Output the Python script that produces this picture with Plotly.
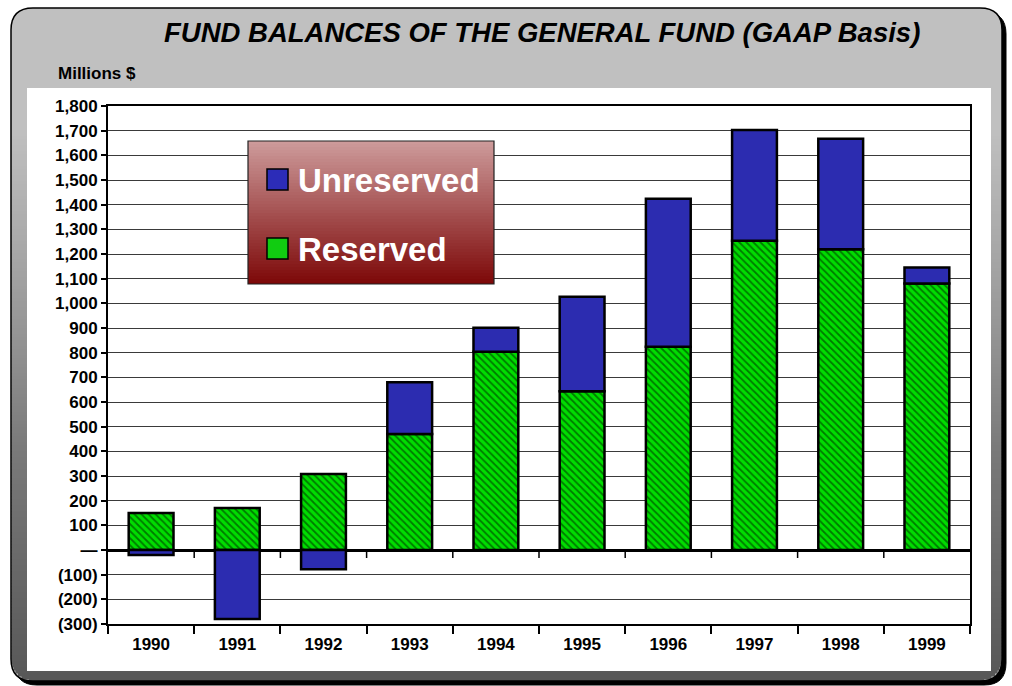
import numpy as np
import plotly.graph_objects as go

# ---------------- data ----------------
years = ["1990", "1991", "1992", "1993", "1994", "1995", "1996", "1997", "1998", "1999"]
reserved = [150, 170, 308, 470, 804, 644, 824, 1254, 1219, 1080]
unreserved = [-20, -280, -78, 210, 97, 383, 600, 449, 448, 65]
y_tick_vals = [-300, -200, -100, 0, 100, 200, 300, 400, 500, 600, 700, 800, 900,
               1000, 1100, 1200, 1300, 1400, 1500, 1600, 1700, 1800]
y_tick_text = ["(300)", "(200)", "(100)", "\u2014", "100", "200", "300", "400", "500",
               "600", "700", "800", "900", "1,000", "1,100", "1,200", "1,300", "1,400",
               "1,500", "1,600", "1,700", "1,800"]
title_text = "FUND BALANCES OF THE GENERAL FUND (GAAP Basis)"
unit_text = "Millions $"

# ---------------- geometry helpers ----------------
W, H = 1012, 686
L, R, T, B = 108, 970, 106, 624
FONT = "Liberation Sans, Arial, sans-serif"


def px(x):
    return (x - L) / (R - L)


def py(y):
    return (B - y) / (B - T)


def rounded_path(x0, y0, x1, y1, r):
    p = [
        f"M {px(x0 + r)},{py(y0)}",
        f"L {px(x1 - r)},{py(y0)}",
        f"Q {px(x1)},{py(y0)} {px(x1)},{py(y0 + r)}",
        f"L {px(x1)},{py(y1 - r)}",
        f"Q {px(x1)},{py(y1)} {px(x1 - r)},{py(y1)}",
        f"L {px(x0 + r)},{py(y1)}",
        f"Q {px(x0)},{py(y1)} {px(x0)},{py(y1 - r)}",
        f"L {px(x0)},{py(y0 + r)}",
        f"Q {px(x0)},{py(y0)} {px(x0 + r)},{py(y0)}",
        "Z",
    ]
    return " ".join(p)


def prect(x0, y0, x1, y1, fill, line_color=None, line_width=0, layer="below"):
    return dict(type="rect", xref="paper", yref="paper", x0=px(x0), x1=px(x1),
                y0=py(y1), y1=py(y0), fillcolor=fill, layer=layer,
                line=dict(color=line_color or fill, width=line_width))


shapes = []
# frame shadow + frame
FX0, FY0, FX1, FY1, RAD = 11, 8, 1002, 681, 22
shapes.append(dict(type="path", xref="paper", yref="paper",
                   path=rounded_path(FX0 + 4, FY0 + 4, FX1 + 4, FY1 + 4, RAD),
                   fillcolor="black", line=dict(color="black", width=1), layer="below"))
shapes.append(dict(type="path", xref="paper", yref="paper",
                   path=rounded_path(FX0, FY0, FX1, FY1, RAD),
                   fillcolor="#c0c0c0", line=dict(color="black", width=0), layer="below"))
# vertical gradient of frame
stops_y = [130, 250, 450, 681]
stops_v = [192, 168, 122, 88]
step = 3
for y in range(130, FY1, step):
    yc = y + step / 2
    v = int(np.interp(yc, stops_y, stops_v))
    inset = 0.0
    cy = FY1 - RAD
    if yc > cy:
        d = min(yc - cy, RAD)
        inset = RAD - np.sqrt(max(RAD ** 2 - d ** 2, 0))
    yb = min(y + step + 0.5, FY1)
    shapes.append(prect(FX0 + inset + 0.5, y, FX1 - inset - 0.5, yb,
                        f"rgb({v},{v},{v})"))
# frame border on top
shapes.append(dict(type="path", xref="paper", yref="paper",
                   path=rounded_path(FX0, FY0, FX1, FY1, RAD),
                   fillcolor="rgba(0,0,0,0)", line=dict(color="black", width=1.5),
                   layer="below"))
# white panel
shapes.append(prect(27, 88, 991, 671, "white"))

# zero-line tick marks between categories
for i in range(len(years) - 1):
    shapes.append(dict(type="line", xref="x", yref="y", x0=i + 0.5, x1=i + 0.5,
                       ysizemode="pixel", yanchor=0, y0=0, y1=-8,
                       line=dict(color="black", width=1.5), layer="above"))

# custom legend box with gradient
LX0, LY0, LX1, LY1 = 248, 141, 494, 284
top_c = np.array([206, 156, 156])
bot_c = np.array([125, 8, 8])
lstep = 3
for y in range(LY0, LY1, lstep):
    t = (y + lstep / 2 - LY0) / (LY1 - LY0)
    c = (1 - t) * top_c + t * bot_c
    shapes.append(prect(LX0, y, LX1, min(y + lstep + 0.5, LY1),
                        f"rgb({int(c[0])},{int(c[1])},{int(c[2])})", layer="above"))
shapes.append(dict(type="rect", xref="paper", yref="paper", x0=px(LX0), x1=px(LX1),
                   y0=py(LY1), y1=py(LY0), fillcolor="rgba(0,0,0,0)",
                   line=dict(color="#222", width=1.2), layer="above"))
# legend swatches
shapes.append(prect(267, 169, 288, 190, "#2c2cb8", "black", 1.5, layer="above"))
shapes.append(prect(267, 238, 288, 259, "#11cc11", "black", 1.5, layer="above"))

annotations = [
    dict(text=f"<b><i>{title_text}</i></b>", xref="paper", yref="paper",
         x=px(542), y=py(32), xanchor="center", yanchor="middle", showarrow=False,
         font=dict(family=FONT, size=27.5, color="black")),
    dict(text=f"<b>{unit_text}</b>", xref="paper", yref="paper",
         x=px(56), y=py(74), xanchor="left", yanchor="middle", showarrow=False,
         font=dict(family=FONT, size=17, color="black")),
    dict(text="<b>Unreserved</b>", xref="paper", yref="paper",
         x=px(296), y=py(180), xanchor="left", yanchor="middle", showarrow=False,
         font=dict(family=FONT, size=33, color="white")),
    dict(text="<b>Reserved</b>", xref="paper", yref="paper",
         x=px(296), y=py(249), xanchor="left", yanchor="middle", showarrow=False,
         font=dict(family=FONT, size=33, color="white")),
]

fig = go.Figure()
fig.add_trace(go.Bar(
    x=years, y=reserved, name="Reserved",
    marker=dict(color="#00cc00", line=dict(color="black", width=2.5),
                pattern=dict(shape="\\", fgcolor="#007a00", bgcolor="#00dd00",
                             size=5, solidity=0.35, fillmode="replace")),
))
fig.add_trace(go.Bar(
    x=years, y=unreserved, name="Unreserved",
    marker=dict(color="#2c2cb0", line=dict(color="black", width=2.5)),
))

fig.update_layout(
    width=W, height=H,
    margin=dict(l=L, r=W - R, t=T, b=H - B, pad=0),
    barmode="relative", bargap=0.48,
    showlegend=False,
    paper_bgcolor="white", plot_bgcolor="white",
    shapes=shapes, annotations=annotations,
    font=dict(family=FONT, color="black"),
)
fig.update_xaxes(
    type="category", categoryorder="array", categoryarray=years,
    showline=True, linecolor="black", linewidth=2, mirror=True,
    ticks="outside", tickson="boundaries", ticklen=8, tickcolor="black", tickwidth=1.5,
    tickfont=dict(family=FONT, size=17, color="black", weight="bold"),
    showgrid=False, ticklabelstandoff=4,
)
fig.update_yaxes(
    range=[-300, 1800], tickvals=y_tick_vals, ticktext=y_tick_text,
    showline=True, linecolor="black", linewidth=2, mirror=True,
    ticks="outside", ticklen=5, tickcolor="black", tickwidth=1.5,
    tickfont=dict(family=FONT, size=17, color="black", weight="bold"),
    showgrid=True, gridcolor="#3a3a3a", gridwidth=1,
    zeroline=True, zerolinecolor="black", zerolinewidth=2.5,
)

fig.write_html("out.html", config={"displayModeBar": False},
               post_script="document.body.style.margin='0';")
